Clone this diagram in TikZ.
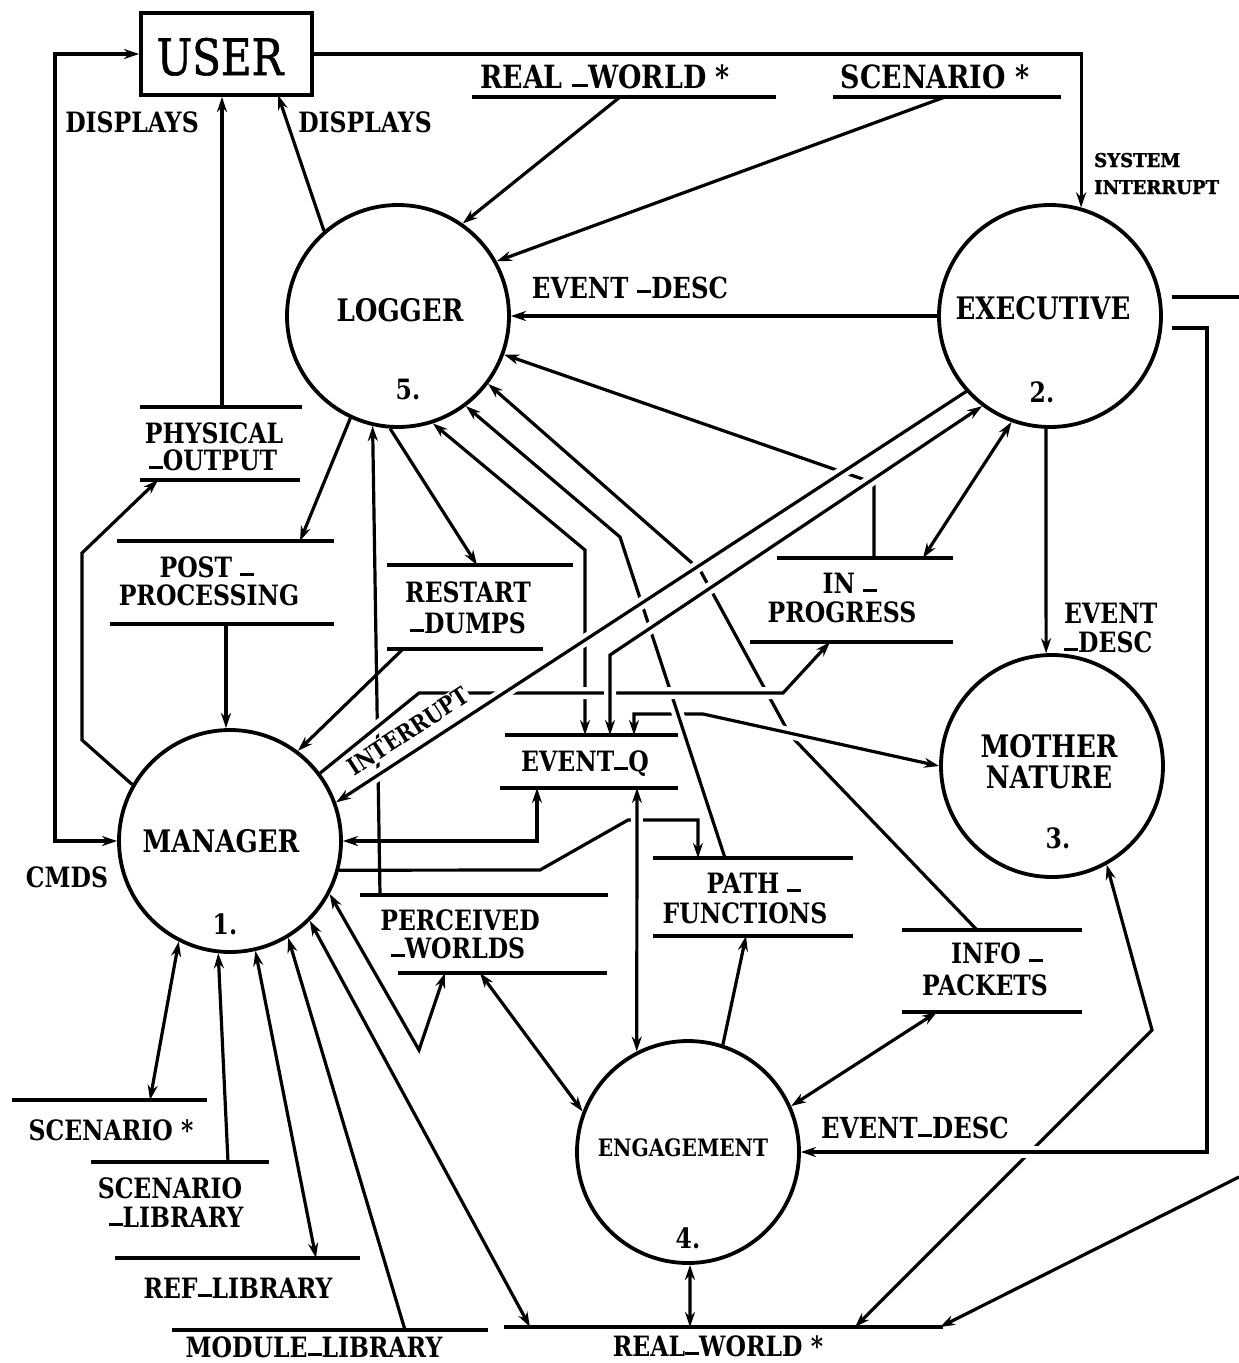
\documentclass[tikz,border=0pt]{standalone}
\usepackage{fontspec}
\setmainfont{DejaVu Serif}[FakeStretch=0.84]
\newfontfamily\heavyfont{DejaVu Serif}[FakeStretch=0.95, BoldFeatures={FakeBold=1.6}]
\newfontfamily\userfont{DejaVu Serif}[FakeStretch=0.84, FakeBold=1.2]
\usetikzlibrary{arrows.meta}
\newcommand\setfs[1]{\fontsize{#1}{#1}\selectfont}
% low dash used in the store and flow names
\newcommand\us{\rule[0.03em]{0.5em}{0.1em}}
\newcommand\md{\rule[0.16em]{0.5em}{0.1em}}

\tikzset{
  proc/.style={circle, draw, line width=3.8pt, minimum size=222pt, inner sep=0pt},
  userbox/.style={rectangle, draw, line width=3.8pt, minimum width=171pt, minimum height=82pt, inner sep=0pt},
  storeline/.style={line width=3.8pt},
  flow/.style={line width=3.2pt},
  hop/.style={preaction={draw=white, line width=12pt, arrows=-, shorten <=20pt, shorten >=20pt}},
  lbl/.style={font=\bfseries\setfs{28}, inner sep=0pt, anchor=base},
  big/.style={lbl, font=\bfseries\setfs{32}},
  pname/.style={lbl, font=\bfseries\setfs{31}},
}

\begin{document}
\begin{tikzpicture}[x=1pt, y=-1pt, >={Stealth[length=15pt,width=10pt]}]
\fill[white] (0,0) rectangle (1239,1363);
\useasboundingbox (0,0) rectangle (1239,1363);

% ---------- processes and the terminator ----------
\node[proc] (log) at (398,316) {};
\node[proc] (exe) at (1050,316) {};
\node[proc] (mn)  at (1052,766) {};
\node[proc] (man) at (230,841) {};
\node[proc] (eng) at (688,1152) {};
\node[userbox] (user) at (226.5,54) {};

% ---------- data stores (parallel bars) ----------
\draw[storeline] (472,97) -- (776,97);            % REAL_WORLD (top)
\draw[storeline] (833,97) -- (1061,97);           % SCENARIO (top)
\draw[storeline] (140,407) -- (302,407) (140,480) -- (300,480);   % PHYSICAL_OUTPUT
\draw[storeline] (117,541) -- (334,541) (110,624) -- (334,624);   % POST_PROCESSING
\draw[storeline] (387,565) -- (573,565) (387,649) -- (543,649);   % RESTART_DUMPS
\draw[storeline] (777,558) -- (953,558) (750,642) -- (953,642);   % IN_PROGRESS
\draw[storeline] (505,735) -- (678,735) (500,788) -- (678,788);   % EVENT_Q
\draw[storeline] (653,858) -- (853,858) (653,936) -- (853,936);   % PATH_FUNCTIONS
\draw[storeline] (360,895) -- (608,895) (398,973) -- (607,973);   % PERCEIVED_WORLDS
\draw[storeline] (902,930) -- (1082,930) (902,1012) -- (1082,1012); % INFO_PACKETS
\draw[storeline] (12,1100) -- (207,1100);         % SCENARIO (bottom)
\draw[storeline] (91,1162) -- (269,1162);         % SCENARIO_LIBRARY
\draw[storeline] (115,1258) -- (360,1258);        % REF_LIBRARY
\draw[storeline] (172,1330) -- (488,1330);        % MODULE_LIBRARY
\draw[storeline] (504,1327) -- (943,1327);        % REAL_WORLD (bottom)

% ---------- attachment points on the stores ----------
\coordinate (rwT)  at (620,97);
\coordinate (scT)  at (945,97);
\coordinate (poU)  at (222,407);
\coordinate (poB)  at (158,480);
\coordinate (ppA)  at (300,541);
\coordinate (ppB)  at (226,624);
\coordinate (rdA)  at (477,565);
\coordinate (rdB)  at (403,649);
\coordinate (ipA)  at (923,558);
\coordinate (ipB)  at (874,558);
\coordinate (ipD)  at (830,642);
\coordinate (eqA)  at (585,735);
\coordinate (eqB)  at (610,735);
\coordinate (eqD)  at (634,735);
\coordinate (eqE)  at (537,788);
\coordinate (eqF)  at (637,788);
\coordinate (pfA)  at (698,858);
\coordinate (pfB)  at (725,858);
\coordinate (pfC)  at (746,936);
\coordinate (pwA)  at (380,895);
\coordinate (pwB)  at (445,973);
\coordinate (pwC)  at (480,973);
\coordinate (ikA)  at (977,930);
\coordinate (ikB)  at (937,1012);
\coordinate (scB)  at (150,1100);
\coordinate (slA)  at (228,1162);
\coordinate (rfA)  at (316,1258);
\coordinate (mlA)  at (405,1330);
\coordinate (rwA)  at (690,1327);
\coordinate (rwB)  at (855,1327);
\coordinate (rwC)  at (940,1327);
\coordinate (rwD)  at (530,1327);
% bends and free ends
\coordinate (lc)   at (55,450);
\coordinate (uD)   at (278,95);
\coordinate (xr1)  at (1172,297);
\coordinate (xe1)  at (1239,297);
\coordinate (xr2)  at (1172,328);
\coordinate (xv)   at (1207,700);
\coordinate (xe2)  at (1239,1177);
\coordinate (ipC)  at (874,483);
\coordinate (h1)   at (419,693);
\coordinate (h2)   at (783,693);
\coordinate (eqC)  at (610,655);
\coordinate (l4b)  at (585,550);
\coordinate (m1)   at (634,714);
\coordinate (m2)   at (703,714);
\coordinate (m3)   at (537,841);
\coordinate (p1)   at (540,870);
\coordinate (p2)   at (628,820);
\coordinate (p3)   at (698,820);
\coordinate (l3b)  at (620,537);
\coordinate (l2b)  at (790,735);
\coordinate (l2c)  at (700,570);
\coordinate (q1)   at (82,740);
\coordinate (q2)   at (82,553);
\coordinate (v1)   at (419,1050);
\coordinate (r1)   at (1152,1030);

% ---------- plain flows ----------
\draw[flow,<->] (user.west) -| (lc) |- (man.west);
\draw[flow,->] (poU) -- (poU |- user.south);
\draw[flow,->] (log.131) -- (uD);
\draw[flow,->] (rwT) -- (log.55);
\draw[flow,->] (scT) -- (log.29);
\draw[flow,->] (user.east) -| (exe.74);
\draw[flow,->] (exe.west) -- (log.east);
\draw[flow] (xr1) -- (xe1);
\draw[flow,->] (xe2) -- (rwC);
\draw[flow,->] (exe.-92.6) -- (mn.93.6);
\draw[flow,<->] (exe.-110) -- (ipA);
\draw[flow,->] (ipB) -- (ipC) -- (log.-20);
\draw[flow,<->] (eqA) -- (l4b) -- (log.-72);
\draw[flow,->] (log.-94) -- (rdA);
\draw[flow,->] (rdB) -- (man.53);
\draw[flow,->] (log.-115) -- (ppA);
\draw[flow,->] (ppB) -- (ppB |- man.north);
\draw[flow,->] (man.150) -- (q1) -- (q2) -- (poB);
\draw[flow,->] (pwA) -- (log.-103);
\draw[flow,<->] (pwB) -- (v1) -- (man.-28);
\draw[flow,<->] (pwC) -- (eng.159);
\draw[flow,->] (eng.72) -- (pfC);
\draw[flow,<->] (ikB) -- (eng.24);
\draw[flow,<->] (eng.-89) -- (rwA);
\draw[flow,<->] (rwB) -- (r1) -- (mn.-61);
\draw[flow,<->] (eqE) -- (m3) -- (man.0);
\draw[flow,->] (man.-15) -- (p1) -- (p2) -- (p3) -- (pfA);
\draw[flow,<->] (man.-117) -- (scB);
\draw[flow,->] (slA) -- (man.-96);
\draw[flow,<->] (man.-77) -- (rfA);
\draw[flow,->] (mlA) -- (man.-59);
\draw[flow,<->] (man.-45) -- (rwD);
\draw[flow,->] (ikA) -- (l2b) -- (l2c) -- (log.-37);

% ---------- flows that pass over others ----------
\draw[flow,hop,<->] (eqD) -- (m1) -- (m2) -- (mn.180);
\draw[flow,hop,->] (pfB) -- (l3b) -- (log.-53);
\draw[flow,hop,->] (man.37) -- (h1) -- (h2) -- (ipD);
\draw[flow,hop,->] (xr2) -| (xv) |- (eng.0);
\draw[flow,hop,<->] (eqF) -- (eng.117.4);
\draw[flow,hop,<->] (eqB) -- (eqC) -- (exe.233);
\draw[flow,hop,->] (exe.222) -- (man.20);

% ---------- texts ----------
\node[lbl, font=\userfont\setfs{50}] (tUser) at (220,75) {USER};
\node[lbl] (tDisp1) at (132,132) {DISPLAYS};
\node[lbl] (tDisp2) at (365,132) {DISPLAYS};
\node[big] (tRw1) at (605,88) {REAL \us WORLD *};
\node[big] (tSc1) at (935,88) {SCENARIO *};
\node[lbl, anchor=base west, font=\heavyfont\bfseries\setfs{19}] (tSys1) at (1094,167) {SYSTEM};
\node[lbl, anchor=base west, font=\heavyfont\bfseries\setfs{19}] (tSys2) at (1094,194) {INTERRUPT};
\node[pname] (tLog) at (400,321) {LOGGER};
\node[lbl] (nLog) at (408,399) {5.};
\node[pname] (tExe) at (1043,319) {EXECUTIVE};
\node[lbl] (nExe) at (1042,402) {2.};
\node[lbl, font=\bfseries\setfs{29}] (tEd1) at (630,298) {EVENT \md DESC};
\node[pname] (tMn1) at (1049,757) {MOTHER};
\node[pname] (tMn2) at (1049,788) {NATURE};
\node[lbl] (nMn) at (1058,848) {3.};
\node[lbl, anchor=base west] (tEd2a) at (1064,623) {EVENT};
\node[lbl, anchor=base west] (tEd2b) at (1064,652) {\us DESC};
\node[pname] (tMan) at (221,852) {MANAGER};
\node[lbl] (nMan) at (225,934) {1.};
\node[lbl] (tCmds) at (67,887) {CMDS};
\node[lbl] (tPo1) at (214,443) {PHYSICAL};
\node[lbl] (tPo2) at (213,470) {\us OUTPUT};
\node[lbl] (tPp1) at (207,577) {POST \us};
\node[lbl] (tPp2) at (209,605) {PROCESSING};
\node[lbl] (tRd1) at (468,602) {RESTART};
\node[lbl] (tRd2) at (468,633) {\us DUMPS};
\node[lbl] (tIp1) at (850,593) {IN \us};
\node[lbl] (tIp2) at (842,622) {PROGRESS};
\node[lbl] (tEq) at (585,771) {EVENT\us Q};
\node[lbl] (tPf1) at (754,893) {PATH \us};
\node[lbl] (tPf2) at (745,923) {FUNCTIONS};
\node[lbl] (tPw1) at (460,930) {PERCEIVED};
\node[lbl] (tPw2) at (458,958) {\us WORLDS};
\node[lbl] (tIk1) at (997,963) {INFO \us};
\node[lbl] (tIk2) at (985,995) {PACKETS};
\node[lbl, font=\bfseries\setfs{29}] (tEd3) at (915,1138) {EVENT\us DESC};
\node[lbl, font=\bfseries\setfs{24}] (tEng) at (683,1156) {ENGAGEMENT};
\node[lbl] (nEng) at (688,1248) {4.};
\node[lbl] (tSc2) at (111,1140) {SCENARIO *};
\node[lbl] (tSl1) at (170,1198) {SCENARIO};
\node[lbl] (tSl2) at (176,1227) {\us LIBRARY};
\node[lbl] (tRf) at (238,1298) {REF\us LIBRARY};
\node[lbl] (tMl) at (314,1357) {MODULE\us LIBRARY};
\node[lbl] (tRw2) at (718,1356) {REAL\us WORLD *};
\node[lbl, anchor=center, rotate=33, fill=white, inner sep=1.5pt, font=\bfseries\setfs{24}] (tInt) at (408,731) {INTERRUPT};
\end{tikzpicture}
\end{document}
